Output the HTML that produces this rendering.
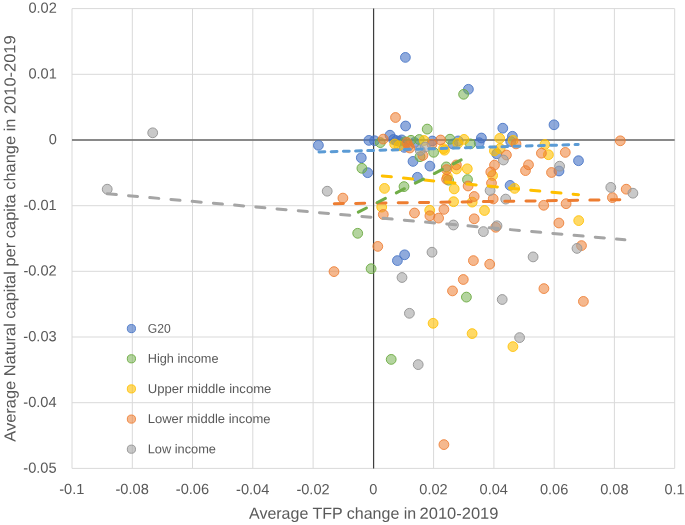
<!DOCTYPE html>
<html lang="en">
<head>
<meta charset="utf-8">
<title>Average TFP change vs Natural capital per capita change</title>
<style>
html,body{margin:0;padding:0;background:#fff;}
body{width:685px;height:525px;overflow:hidden;}
svg{display:block;font-family:"Liberation Sans",sans-serif;}
.grid line{stroke:#d9d9d9;stroke-width:1;}
.tick{font-size:14.6px;fill:#595959;}
.title{font-size:16.0px;fill:#595959;}
.leg{font-size:12.7px;fill:#595959;}
.b{fill:#4472c4;fill-opacity:.6;stroke:#4472c4;stroke-opacity:.85;}
.g{fill:#70ad47;fill-opacity:.52;stroke:#70ad47;stroke-opacity:.95;}
.y{fill:#ffc000;fill-opacity:.6;stroke:#ffc000;stroke-opacity:.85;}
.o{fill:#ed7d31;fill-opacity:.55;stroke:#ed7d31;stroke-opacity:.85;}
.a{fill:#a5a5a5;fill-opacity:.6;stroke:#9a9a9a;stroke-opacity:1;}
.pts circle{stroke-width:1;}
.tl line{stroke-width:3;fill:none;stroke-linecap:round;}
text{filter:grayscale(1);}
</style>
</head>
<body>
<svg width="685" height="525" viewBox="0 0 685 525">
<rect width="685" height="525" fill="#ffffff"/>

<g class="grid">
<line x1="72.0" y1="8.6" x2="72.0" y2="468.4"/>
<line x1="132.3" y1="8.6" x2="132.3" y2="468.4"/>
<line x1="192.5" y1="8.6" x2="192.5" y2="468.4"/>
<line x1="252.8" y1="8.6" x2="252.8" y2="468.4"/>
<line x1="313.1" y1="8.6" x2="313.1" y2="468.4"/>
<line x1="373.4" y1="8.6" x2="373.4" y2="468.4"/>
<line x1="433.6" y1="8.6" x2="433.6" y2="468.4"/>
<line x1="493.9" y1="8.6" x2="493.9" y2="468.4"/>
<line x1="554.2" y1="8.6" x2="554.2" y2="468.4"/>
<line x1="614.4" y1="8.6" x2="614.4" y2="468.4"/>
<line x1="674.7" y1="8.6" x2="674.7" y2="468.4"/>
<line x1="72.0" y1="8.6" x2="674.7" y2="8.6"/>
<line x1="72.0" y1="74.3" x2="674.7" y2="74.3"/>
<line x1="72.0" y1="140.0" x2="674.7" y2="140.0"/>
<line x1="72.0" y1="205.7" x2="674.7" y2="205.7"/>
<line x1="72.0" y1="271.3" x2="674.7" y2="271.3"/>
<line x1="72.0" y1="337.0" x2="674.7" y2="337.0"/>
<line x1="72.0" y1="402.7" x2="674.7" y2="402.7"/>
<line x1="72.0" y1="468.4" x2="674.7" y2="468.4"/>
</g>
<line x1="72.0" y1="140.0" x2="674.7" y2="140.0" stroke="#686868" stroke-width="1.7"/>
<line x1="373.6" y1="8.6" x2="373.6" y2="468.4" stroke="#3e3e3e" stroke-width="1.2"/>
<g class="tick" transform="rotate(0.03 340 260)">
<text x="59.4" y="494.2" textLength="25.1" lengthAdjust="spacingAndGlyphs">-0.1</text>
<text x="115.6" y="494.2" textLength="33.3" lengthAdjust="spacingAndGlyphs">-0.08</text>
<text x="175.9" y="494.2" textLength="33.3" lengthAdjust="spacingAndGlyphs">-0.06</text>
<text x="236.2" y="494.2" textLength="33.3" lengthAdjust="spacingAndGlyphs">-0.04</text>
<text x="296.5" y="494.2" textLength="33.3" lengthAdjust="spacingAndGlyphs">-0.02</text>
<text x="369.3" y="494.2" textLength="8.1" lengthAdjust="spacingAndGlyphs">0</text>
<text x="419.4" y="494.2" textLength="28.4" lengthAdjust="spacingAndGlyphs">0.02</text>
<text x="479.7" y="494.2" textLength="28.4" lengthAdjust="spacingAndGlyphs">0.04</text>
<text x="540.0" y="494.2" textLength="28.4" lengthAdjust="spacingAndGlyphs">0.06</text>
<text x="600.3" y="494.2" textLength="28.4" lengthAdjust="spacingAndGlyphs">0.08</text>
<text x="664.6" y="494.2" textLength="20.2" lengthAdjust="spacingAndGlyphs">0.1</text>
<text x="28.3" y="13.0" textLength="28.4" lengthAdjust="spacingAndGlyphs">0.02</text>
<text x="28.3" y="78.7" textLength="28.4" lengthAdjust="spacingAndGlyphs">0.01</text>
<text x="48.6" y="144.4" textLength="8.1" lengthAdjust="spacingAndGlyphs">0</text>
<text x="23.4" y="210.1" textLength="33.3" lengthAdjust="spacingAndGlyphs">-0.01</text>
<text x="23.4" y="275.7" textLength="33.3" lengthAdjust="spacingAndGlyphs">-0.02</text>
<text x="23.4" y="341.4" textLength="33.3" lengthAdjust="spacingAndGlyphs">-0.03</text>
<text x="23.4" y="407.1" textLength="33.3" lengthAdjust="spacingAndGlyphs">-0.04</text>
<text x="23.4" y="472.8" textLength="33.3" lengthAdjust="spacingAndGlyphs">-0.05</text>
</g>
<g class="title">
<text transform="rotate(0.03 373 518)" x="249.0" y="518.8" textLength="167.2" lengthAdjust="spacingAndGlyphs">Average TFP change in</text>
<text transform="rotate(0.03 373 518)" x="419.6" y="518.8" textLength="78.8" lengthAdjust="spacingAndGlyphs">2010-2019</text>
<text transform="translate(15.4 441.7) rotate(-90.03)" textLength="323.2" lengthAdjust="spacingAndGlyphs">Average Natural capital per capita change in</text>
<text transform="translate(15.4 114.1) rotate(-90.03)" textLength="78.8" lengthAdjust="spacingAndGlyphs">2010-2019</text>
</g>
<g class="pts">
<g class="b">
<circle cx="405.4" cy="57.4" r="4.9"/>
<circle cx="468.4" cy="89.3" r="4.9"/>
<circle cx="405.6" cy="126.0" r="4.9"/>
<circle cx="318.4" cy="145.3" r="4.9"/>
<circle cx="368.9" cy="140.4" r="4.9"/>
<circle cx="374.5" cy="140.7" r="4.9"/>
<circle cx="390.0" cy="135.2" r="4.9"/>
<circle cx="361.3" cy="157.8" r="4.9"/>
<circle cx="367.7" cy="172.7" r="4.9"/>
<circle cx="393.5" cy="139.5" r="4.9"/>
<circle cx="401.7" cy="139.9" r="4.9"/>
<circle cx="404.3" cy="147.4" r="4.9"/>
<circle cx="432.3" cy="141.0" r="4.9"/>
<circle cx="452.9" cy="144.0" r="4.9"/>
<circle cx="458.2" cy="140.9" r="4.9"/>
<circle cx="481.4" cy="138.0" r="4.9"/>
<circle cx="479.2" cy="142.7" r="4.9"/>
<circle cx="502.8" cy="128.2" r="4.9"/>
<circle cx="512.4" cy="136.3" r="4.9"/>
<circle cx="510.7" cy="141.5" r="4.9"/>
<circle cx="496.7" cy="153.8" r="4.9"/>
<circle cx="413.0" cy="161.4" r="4.9"/>
<circle cx="429.9" cy="166.1" r="4.9"/>
<circle cx="417.4" cy="177.3" r="4.9"/>
<circle cx="510.1" cy="185.4" r="4.9"/>
<circle cx="554.0" cy="124.8" r="4.9"/>
<circle cx="578.5" cy="160.7" r="4.9"/>
<circle cx="559.0" cy="171.0" r="4.9"/>
<circle cx="404.6" cy="254.8" r="4.9"/>
<circle cx="397.4" cy="260.6" r="4.9"/>
<circle cx="396.2" cy="140.6" r="4.9"/>
<circle cx="399.0" cy="141.2" r="4.9"/>
<circle cx="414.5" cy="142.5" r="4.9"/>
</g>
<g class="g">
<circle cx="380.3" cy="142.6" r="4.9"/>
<circle cx="361.9" cy="168.3" r="4.9"/>
<circle cx="427.2" cy="129.1" r="4.9"/>
<circle cx="463.6" cy="94.3" r="4.9"/>
<circle cx="405.3" cy="141.8" r="4.9"/>
<circle cx="411.0" cy="140.3" r="4.9"/>
<circle cx="419.3" cy="139.5" r="4.9"/>
<circle cx="433.6" cy="152.3" r="4.9"/>
<circle cx="420.0" cy="156.7" r="4.9"/>
<circle cx="450.0" cy="139.2" r="4.9"/>
<circle cx="470.4" cy="143.9" r="4.9"/>
<circle cx="446.3" cy="166.9" r="4.9"/>
<circle cx="448.6" cy="180.2" r="4.9"/>
<circle cx="404.0" cy="186.6" r="4.9"/>
<circle cx="467.5" cy="179.6" r="4.9"/>
<circle cx="357.7" cy="233.3" r="4.9"/>
<circle cx="371.1" cy="268.7" r="4.9"/>
<circle cx="466.4" cy="297.1" r="4.9"/>
<circle cx="391.2" cy="359.4" r="4.9"/>
</g>
<g class="y">
<circle cx="394.7" cy="144.0" r="4.9"/>
<circle cx="398.9" cy="145.8" r="4.9"/>
<circle cx="424.1" cy="140.5" r="4.9"/>
<circle cx="443.5" cy="148.6" r="4.9"/>
<circle cx="444.5" cy="150.2" r="4.9"/>
<circle cx="457.8" cy="143.3" r="4.9"/>
<circle cx="464.0" cy="139.4" r="4.9"/>
<circle cx="499.7" cy="138.4" r="4.9"/>
<circle cx="513.1" cy="140.4" r="4.9"/>
<circle cx="494.4" cy="150.9" r="4.9"/>
<circle cx="500.2" cy="148.5" r="4.9"/>
<circle cx="544.9" cy="144.5" r="4.9"/>
<circle cx="548.4" cy="154.7" r="4.9"/>
<circle cx="384.5" cy="188.4" r="4.9"/>
<circle cx="381.7" cy="207.1" r="4.9"/>
<circle cx="429.7" cy="210.3" r="4.9"/>
<circle cx="454.2" cy="188.9" r="4.9"/>
<circle cx="453.6" cy="201.7" r="4.9"/>
<circle cx="456.5" cy="169.0" r="4.9"/>
<circle cx="467.3" cy="168.8" r="4.9"/>
<circle cx="492.6" cy="175.5" r="4.9"/>
<circle cx="514.6" cy="188.4" r="4.9"/>
<circle cx="472.2" cy="202.1" r="4.9"/>
<circle cx="484.5" cy="210.5" r="4.9"/>
<circle cx="578.7" cy="220.6" r="4.9"/>
<circle cx="433.1" cy="323.3" r="4.9"/>
<circle cx="472.1" cy="333.6" r="4.9"/>
<circle cx="512.9" cy="346.6" r="4.9"/>
<circle cx="447.4" cy="176.7" r="4.9"/>
</g>
<g class="o">
<circle cx="395.5" cy="117.5" r="4.9"/>
<circle cx="383.2" cy="139.1" r="4.9"/>
<circle cx="406.9" cy="142.5" r="4.9"/>
<circle cx="409.8" cy="148.0" r="4.9"/>
<circle cx="408.5" cy="146.0" r="4.9"/>
<circle cx="432.0" cy="144.2" r="4.9"/>
<circle cx="440.6" cy="140.0" r="4.9"/>
<circle cx="422.9" cy="155.5" r="4.9"/>
<circle cx="446.6" cy="169.6" r="4.9"/>
<circle cx="456.4" cy="164.9" r="4.9"/>
<circle cx="446.6" cy="179.2" r="4.9"/>
<circle cx="516.0" cy="143.9" r="4.9"/>
<circle cx="506.4" cy="155.0" r="4.9"/>
<circle cx="494.5" cy="165.1" r="4.9"/>
<circle cx="490.8" cy="172.0" r="4.9"/>
<circle cx="528.5" cy="164.8" r="4.9"/>
<circle cx="525.5" cy="170.6" r="4.9"/>
<circle cx="541.4" cy="153.2" r="4.9"/>
<circle cx="565.3" cy="152.4" r="4.9"/>
<circle cx="551.5" cy="172.5" r="4.9"/>
<circle cx="620.3" cy="140.8" r="4.9"/>
<circle cx="626.2" cy="189.2" r="4.9"/>
<circle cx="612.4" cy="197.6" r="4.9"/>
<circle cx="566.1" cy="203.7" r="4.9"/>
<circle cx="543.7" cy="205.3" r="4.9"/>
<circle cx="558.9" cy="223.0" r="4.9"/>
<circle cx="468.1" cy="186.0" r="4.9"/>
<circle cx="491.5" cy="183.1" r="4.9"/>
<circle cx="474.2" cy="196.5" r="4.9"/>
<circle cx="493.2" cy="198.9" r="4.9"/>
<circle cx="443.9" cy="209.4" r="4.9"/>
<circle cx="383.3" cy="214.5" r="4.9"/>
<circle cx="414.5" cy="213.0" r="4.9"/>
<circle cx="429.9" cy="215.8" r="4.9"/>
<circle cx="438.6" cy="218.1" r="4.9"/>
<circle cx="474.2" cy="218.8" r="4.9"/>
<circle cx="495.7" cy="227.3" r="4.9"/>
<circle cx="342.9" cy="198.1" r="4.9"/>
<circle cx="377.8" cy="246.4" r="4.9"/>
<circle cx="334.0" cy="271.6" r="4.9"/>
<circle cx="473.4" cy="260.6" r="4.9"/>
<circle cx="489.7" cy="264.2" r="4.9"/>
<circle cx="463.3" cy="279.5" r="4.9"/>
<circle cx="452.5" cy="290.9" r="4.9"/>
<circle cx="543.9" cy="288.6" r="4.9"/>
<circle cx="581.5" cy="245.6" r="4.9"/>
<circle cx="583.4" cy="301.4" r="4.9"/>
<circle cx="443.9" cy="444.6" r="4.9"/>
</g>
<g class="a">
<circle cx="152.7" cy="132.8" r="4.9"/>
<circle cx="107.2" cy="189.2" r="4.9"/>
<circle cx="327.2" cy="191.2" r="4.9"/>
<circle cx="425.3" cy="147.0" r="4.9"/>
<circle cx="420.2" cy="150.5" r="4.9"/>
<circle cx="503.4" cy="160.0" r="4.9"/>
<circle cx="559.6" cy="166.2" r="4.9"/>
<circle cx="490.1" cy="190.5" r="4.9"/>
<circle cx="505.7" cy="199.1" r="4.9"/>
<circle cx="453.4" cy="225.0" r="4.9"/>
<circle cx="497.0" cy="225.8" r="4.9"/>
<circle cx="483.4" cy="231.6" r="4.9"/>
<circle cx="432.0" cy="252.2" r="4.9"/>
<circle cx="533.1" cy="256.9" r="4.9"/>
<circle cx="577.0" cy="248.4" r="4.9"/>
<circle cx="610.8" cy="187.4" r="4.9"/>
<circle cx="632.9" cy="193.2" r="4.9"/>
<circle cx="402.0" cy="277.5" r="4.9"/>
<circle cx="502.2" cy="299.5" r="4.9"/>
<circle cx="409.4" cy="313.3" r="4.9"/>
<circle cx="519.6" cy="337.6" r="4.9"/>
<circle cx="418.2" cy="364.6" r="4.9"/>
</g>
</g>
<g class="tl">
<line x1="107.3" y1="193.8" x2="624.9" y2="239.8" stroke="#a5a5a5" stroke-dasharray="9.1 12.2"/>
<line x1="334.3" y1="203.7" x2="619.8" y2="199.7" stroke="#ed7d31" stroke-dasharray="9.1 12.2"/>
<line x1="382.3" y1="176.0" x2="578.5" y2="194.7" stroke="#ffc000" stroke-dasharray="9.1 12.2"/>
<line x1="358.3" y1="212.1" x2="461.2" y2="159.9" stroke="#70ad47" stroke-dasharray="9.1 12.2"/>
<line x1="319.0" y1="152.0" x2="578.2" y2="144.5" stroke="#5b9bd5" stroke-dasharray="5.8 6.4"/>
</g>
<g class="pts">
<circle class="b" cx="131.4" cy="328.6" r="4.1"/>
<circle class="g" cx="131.4" cy="358.8" r="4.1"/>
<circle class="y" cx="131.4" cy="388.9" r="4.1"/>
<circle class="o" cx="131.4" cy="419.1" r="4.1"/>
<circle class="a" cx="131.4" cy="449.2" r="4.1"/>
</g>
<g class="leg" transform="rotate(0.03 200 390)">
<text x="147.7" y="332.7" textLength="22.9" lengthAdjust="spacingAndGlyphs">G20</text>
<text x="147.7" y="362.8" textLength="70.9" lengthAdjust="spacingAndGlyphs">High income</text>
<text x="147.7" y="393.0" textLength="123.7" lengthAdjust="spacingAndGlyphs">Upper middle income</text>
<text x="147.7" y="423.1" textLength="122.9" lengthAdjust="spacingAndGlyphs">Lower middle income</text>
<text x="147.7" y="453.3" textLength="68.3" lengthAdjust="spacingAndGlyphs">Low income</text>
</g>
</svg>
</body>
</html>
